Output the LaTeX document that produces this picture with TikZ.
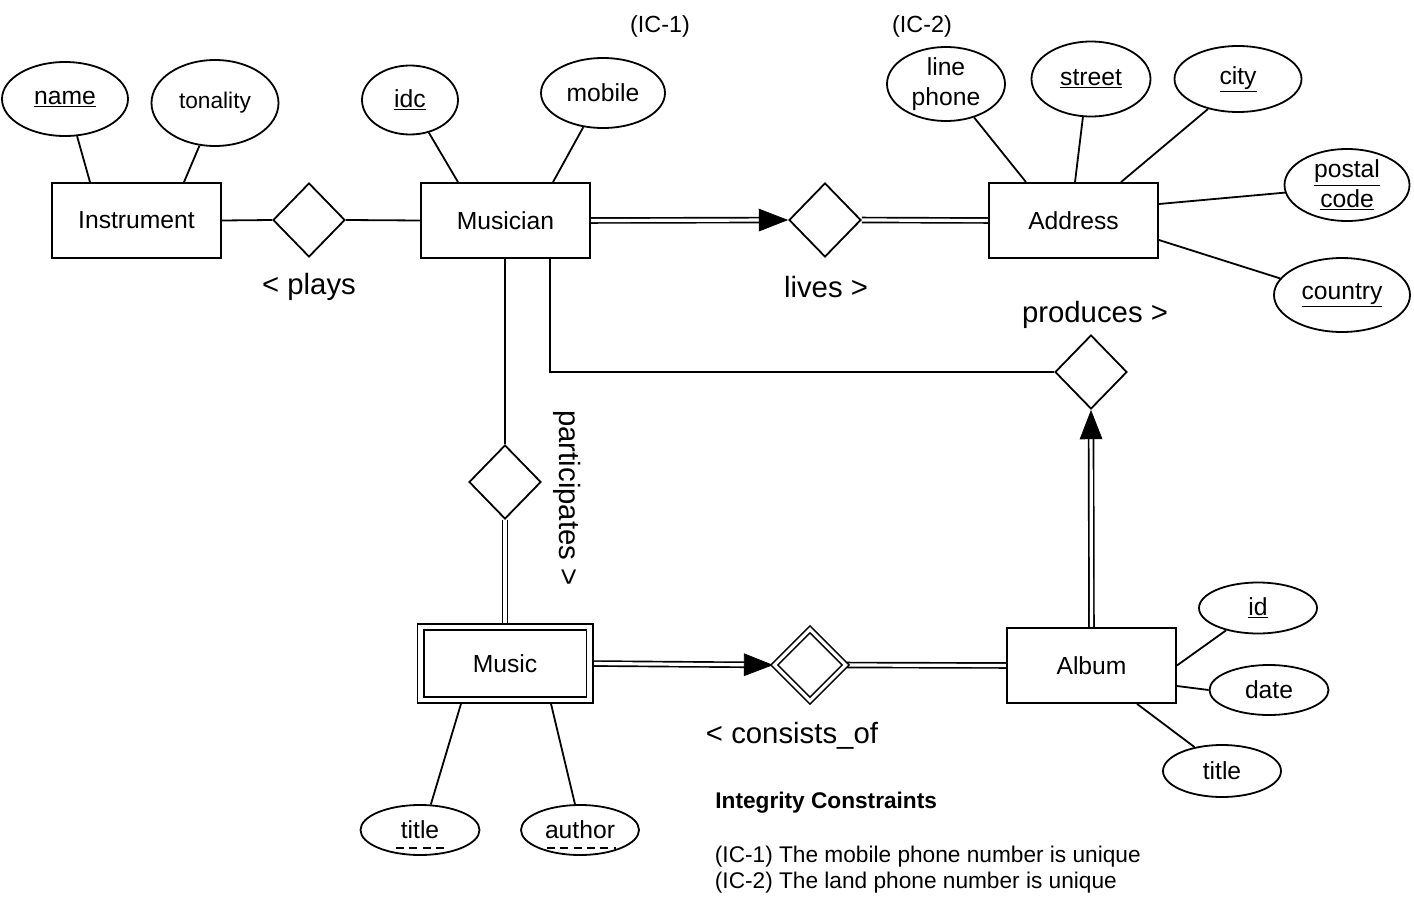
\documentclass[tikz,border=0pt]{standalone}
\usepackage{fontspec}
\setmainfont{Liberation Sans}
\usetikzlibrary{shapes.geometric,arrows.meta,calc}
\pgfdeclarelayer{bg}
\pgfsetlayers{bg,main}
\begin{document}
\begin{tikzpicture}[x=0.75pt,y=-0.75pt,
  line width=1.35pt,
  txt/.style={font=\fontsize{18.5}{22}\selectfont},
  ent/.style={draw, fill=white, rectangle, inner sep=0pt, minimum width=126.75pt, minimum height=56.25pt, txt},
  weak/.style={ent, double, double distance=3.6pt, line width=1.2pt, minimum height=54.75pt},
  attr/.style 2 args={draw, fill=white, ellipse, inner sep=0pt, align=center, minimum width=#1, minimum height=#2, txt},
  rel/.style={draw, fill=white, diamond, inner sep=0pt, minimum width=54pt, minimum height=55.5pt},
  wrel/.style={rel, double, double distance=2.4pt, line width=1.2pt, minimum width=54pt, minimum height=54pt},
  lab/.style={font=\fontsize{22}{26}\selectfont},
  small/.style={font=\fontsize{17}{19.5}\selectfont},
  conn/.style={line width=1.35pt},
  dbl/.style={double, double distance=2.4pt, line width=1.25pt},
  tip/.style={-{Triangle[length=22pt,width=17pt]}, line width=0.6pt}
]
\useasboundingbox (0,0) rectangle (1414,906);

% entities
\node[ent] (Instrument) at (136.5,220.5) {Instrument};
\node[ent] (Musician) at (505.5,220.5) {Musician};
\node[ent] (Address) at (1073.5,220.5) {Address};
\node[ent] (Album) at (1091.5,665.5) {Album};
\node[weak] (Music) at (505,663.5) {Music};

% relationships
\node[rel] (plays) at (309,220) {};
\node[rel] (lives) at (825,220) {};
\node[rel] (produces) at (1091,372) {};
\node[rel] (participates) at (505,482) {};
\node[wrel] (consists) at (810,665) {};

% attributes
\node[attr={94.5pt}{55.5pt}] (name) at (65,99) {\underline{name}};
\node[attr={95.25pt}{64.5pt}, font=\fontsize{17}{20}\selectfont] (tonality) at (215,103) {tonality};
\node[attr={72pt}{51.75pt}] (idc) at (410,100) {\underline{idc}};
\node[attr={93pt}{52.5pt}] (mobile) at (603,93) {mobile};
\node[attr={88.5pt}{50.25pt}] (linephone) at (946,84) {line\\phone};
\node[attr={89.25pt}{56.25pt}] (street) at (1091,79) {\underline{street}};
\node[attr={95.25pt}{49.5pt}] (city) at (1238,79) {\underline{city}};
\node[attr={93.75pt}{54pt}] (postal) at (1347,185) {\underline{postal}\\\underline{code}};
\node[attr={102pt}{55.5pt}] (country) at (1342,295) {\underline{country}};
\node[attr={88.5pt}{38.25pt}] (id) at (1258,608) {\underline{id}};
\node[attr={89.25pt}{37.5pt}] (date) at (1269,690) {date};
\node[attr={88.5pt}{39pt}] (atitle) at (1222,771) {title};
\node[attr={89.25pt}{37.5pt}] (mtitle) at (420,830) {title};
\node[attr={88.5pt}{37.5pt}] (author) at (580,830) {author};

% dashed underlines (partial keys)
\draw[line width=1pt, dash pattern=on 6pt off 4pt] ($(mtitle.center)+(-24,18)$) -- ($(mtitle.center)+(28,18)$);
\draw[line width=1pt, dash pattern=on 6pt off 4pt] ($(author.center)+(-33,18)$) -- ($(author.center)+(36,18)$);

% labels
\node[lab] (lplays) at (309,287) {< plays};
\node[lab] (llives) at (826,287) {lives >};
\node[lab] (lproduces) at (1095,315) {produces >};
\node[lab] (lconsists) at (792,736) {< consists\_of};
\node[lab, rotate=-90] (lpart) at (567,498) {participates >};
\node[txt, font=\fontsize{17.5}{20}\selectfont] (ic1) at (660,26) {(IC-1)};
\node[txt, font=\fontsize{17.5}{20}\selectfont] (ic2) at (922,26) {(IC-2)};
\node[small, anchor=west, font=\fontsize{17}{19.5}\selectfont\bfseries] (ictitle) at (710,803) {Integrity Constraints};
\node[small, anchor=north west, align=left, inner sep=0pt] (iclines) at (714,845) {(IC-1) The mobile phone number is unique\\(IC-2) The land phone number is unique};

\begin{pgfonlayer}{bg}
% attribute links
\draw[conn] (name.-72) -- ($(Instrument.north)+(-46.5,0)$);
\draw[conn] (tonality.-110) -- ($(Instrument.north)+(47.5,0)$);
\draw[conn] (idc.-60) -- ($(Musician.north)+(-47.5,0)$);
\draw[conn] (mobile.-120) -- ($(Musician.north)+(47.5,0)$);
\draw[conn] (linephone.-50) -- ($(Address.north)+(-47.5,0)$);
\draw[conn] (street.-102) -- ($(Address.north)+(1.5,0)$);
\draw[conn] (city.-135) -- ($(Address.north)+(47.5,0)$);
\draw[conn] (postal.-173) -- ($(Address.east)+(0,-16.5)$);
\draw[conn] (country.165) -- ($(Address.east)+(0,19.5)$);
\draw[conn] (id.-145) -- (Album.east);
\draw[conn] (date.180) -- ($(Album.east)+(0,20.5)$);
\draw[conn] (atitle.139) -- ($(Album.south)+(45.5,0)$);
\draw[conn] (mtitle.67) -- ($(Music.south)+(-44,3)$);
\draw[conn] (author.101) -- ($(Music.south)+(46,3)$);

% relationship links
\draw[conn] (Instrument.east) -- (plays.west);
\draw[conn] (plays.east) -- (Musician.west);
\draw[dbl] (Musician.east) -- ($(lives.west)!18pt!(Musician.east)$);
\draw[tip] ($(lives.west)!21pt!(Musician.east)$) -- (lives.west);
\draw[dbl] (lives.east) -- (Address.west);
\draw[conn] (participates.north |- Musician.south) -- (participates.north);
\draw[dbl] (participates.south) -- (Music.north);
\draw[dbl] (Music.east) -- ($(consists.west)!18pt!(Music.east)$);
\draw[tip] ($(consists.west)!21pt!(Music.east)$) -- (consists.west);
\draw[dbl] (consists.east) -- (Album.west);
\draw[dbl] (Album.north) -- ($(produces.south)!18pt!(Album.north)$);
\draw[tip] ($(produces.south)!21pt!(Album.north)$) -- (produces.south);
\coordinate (mp) at ($(Musician.south)+(44.5,0)$);
\draw[conn] (mp) |- (produces.west);
\end{pgfonlayer}
\end{tikzpicture}
\end{document}
